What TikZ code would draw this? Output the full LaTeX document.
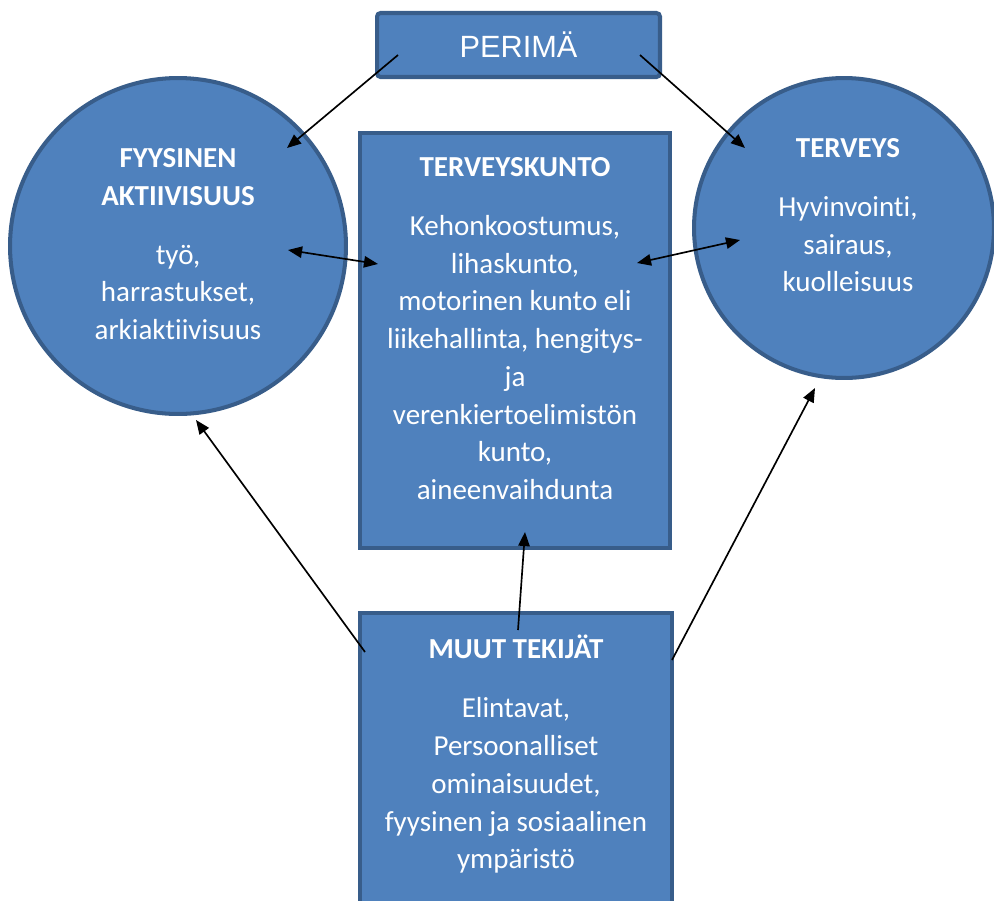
\documentclass[tikz,border=0pt]{standalone}
\usepackage{fontspec}
\setmainfont{Carlito}[Ligatures=NoCommon]
\newfontfamily\perimafont{Liberation Sans}
\usetikzlibrary{arrows.meta}
\definecolor{boxblue}{HTML}{4F81BD}
\definecolor{boxedge}{HTML}{385D8A}

\begin{document}
\begin{tikzpicture}[x=0.02cm, y=-0.02cm,
    blob/.style={fill=boxblue, draw=boxedge, line width=2.3pt, inner sep=0pt},
    txt/.style={text=white, align=center, anchor=north, inner sep=0pt,
      font=\fontsize{16.5}{21.5}\selectfont},
    arr/.style={-{Triangle[length=8pt,width=6.5pt]}, line width=0.95pt},
    darr/.style={{Triangle[length=8pt,width=6.5pt]}-{Triangle[length=8pt,width=6.5pt]}, line width=0.95pt}]
  \useasboundingbox (0,0) rectangle (994,900);
  \clip (0,0) rectangle (994,900);

  % shapes
  \node[blob, rectangle, rounded corners=2pt, minimum width=5.66cm, minimum height=1.28cm] (perima) at (518.5,45) {};
  \node[blob, circle, minimum size=6.72cm] (fyys) at (178,246) {};
  \node[blob, circle, minimum size=6.0cm] (terveys) at (844,228) {};
  \node[blob, rectangle, minimum width=6.2cm, minimum height=8.3cm] (kunto) at (515,340.5) {};
  \node[blob, rectangle, minimum width=6.24cm, minimum height=7cm] (muut) at (516,788) {};

  % texts
  \node[text=white, font=\perimafont\fontsize{17.5}{20}\selectfont] (perimatxt) at (perima) {PERIMÄ};
  \node[txt] (fyystxt) at (178,148) {\textbf{FYYSINEN}\\ \textbf{AKTIIVISUUS}\\[12pt]
    työ,\\ harrastukset,\\ arkiaktiivisuus};
  \node[txt] (terveystxt) at (848,138) {\textbf{TERVEYS}\\[12pt]
    Hyvinvointi,\\ sairaus,\\ kuolleisuus};
  \node[txt] (kuntotxt) at (515,157) {\textbf{TERVEYSKUNTO}\\[12pt]
    Kehonkoostumus,\\ lihaskunto,\\ motorinen kunto eli\\ liikehallinta, hengitys-\\ ja\\
    verenkiertoelimistön\\ kunto,\\ aineenvaihdunta};
  \node[txt] (muuttxt) at (516,635) {\textbf{MUUT TEKIJÄT}\\[12pt]
    Elintavat,\\ Persoonalliset\\ ominaisuudet,\\ fyysinen ja sosiaalinen\\ ympäristö};

  % arrow ends
  \coordinate (perimaL) at (398,55);
  \coordinate (perimaR) at (640,55);
  \coordinate (fyysT) at (287,148);
  \coordinate (terveysT) at (745,148);
  \coordinate (fyysR) at (288,250);
  \coordinate (kuntoL) at (378,264);
  \coordinate (kuntoR) at (637,263);
  \coordinate (terveysL) at (740,240);
  \coordinate (muutT) at (518,630);
  \coordinate (kuntoB) at (525,532);
  \coordinate (muutL) at (365,652);
  \coordinate (fyysB) at (196,420);
  \coordinate (muutR) at (672,660);
  \coordinate (terveysB) at (815,388);

  \draw[arr] (perimaL) -- (fyysT);
  \draw[arr] (perimaR) -- (terveysT);
  \draw[darr] (fyysR) -- (kuntoL);
  \draw[darr] (kuntoR) -- (terveysL);
  \draw[arr] (muutT) -- (kuntoB);
  \draw[arr] (muutL) -- (fyysB);
  \draw[arr] (muutR) -- (terveysB);

\end{tikzpicture}
\end{document}
